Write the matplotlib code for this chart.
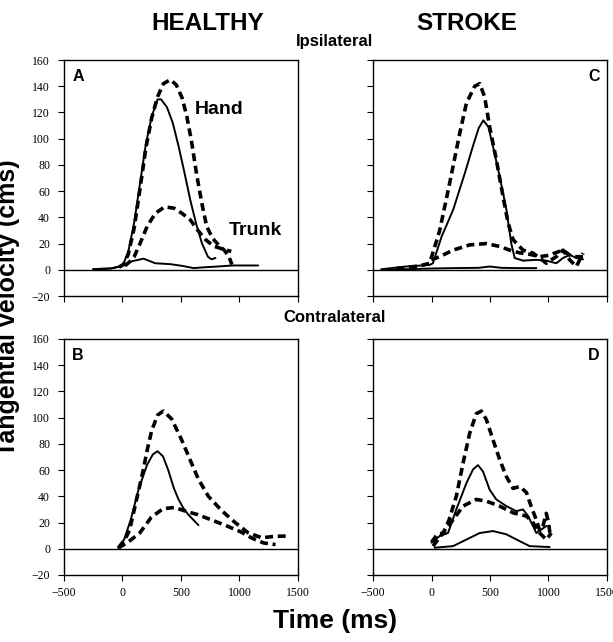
import matplotlib
matplotlib.use("Agg")
import matplotlib.pyplot as plt

# ---- data (time in ms, tangential velocity in cm/s) ----
# panel A: healthy, ipsilateral
a_hand_solid_t = [-250, -100, -30, 10, 50, 100, 150, 200, 250, 300, 330, 380, 430, 480, 530, 580, 630, 680, 730, 760, 795]
a_hand_solid_v = [0.5, 1, 2.5, 5, 14, 36, 66, 96, 117, 130, 130, 124, 112, 94, 74, 53, 35, 20, 10, 8, 9]
a_hand_dash_t = [-30, 10, 50, 100, 150, 200, 250, 300, 350, 410, 460, 510, 550, 590, 635, 680, 720, 770, 820, 870, 910, 935]
a_hand_dash_v = [2, 4, 12, 32, 62, 93, 116, 132, 142, 145, 141, 131, 117, 98, 72, 50, 33, 24, 19, 15, 10, 4]
a_trunk_solid_t = [-250, -100, -20, 80, 180, 280, 410, 510, 610, 680, 810, 940, 1160]
a_trunk_solid_v = [0.5, 1, 2.5, 6.5, 8.5, 5, 4.3, 3, 1.3, 1.8, 2.5, 3.3, 3.3]
a_trunk_dash_t = [20, 60, 100, 150, 210, 280, 360, 440, 510, 580, 645, 710, 780, 850, 930]
a_trunk_dash_v = [3, 6, 10, 20, 33, 43, 48, 47, 43, 38, 30, 23, 18, 16, 14]

# panel B: healthy, contralateral
b_hand_solid_t = [-36, 14, 70, 140, 210, 260, 300, 346, 391, 440, 477, 520, 563, 606, 649]
b_hand_solid_v = [0.6, 7, 22, 46, 64, 72, 74.4, 70.5, 60, 46, 38, 31, 26, 22, 18]
b_hand_dash_t = [-36, 20, 60, 106, 147, 177, 213, 249, 300, 349, 420, 506, 577, 649, 734, 849, 963, 1077, 1191, 1306, 1420]
b_hand_dash_v = [0.6, 7, 14, 32, 48, 60, 76, 90, 102, 105, 99, 83, 68, 53, 40, 29, 20, 12, 8.4, 9.5, 9.7]
b_trunk_dash_t = [-36, 47, 147, 246, 346, 445, 545, 644, 760, 876, 1009, 1109, 1208, 1308]
b_trunk_dash_v = [0.6, 5, 12, 24, 30.5, 31.5, 28.5, 26, 22, 18, 13, 8, 4.4, 3.2]

# panel C: stroke, ipsilateral
c_hand_solid_t = [-430, -220, -15, 12, 85, 186, 286, 353, 403, 443, 486, 526, 583, 640, 682, 711, 782, 896, 981, 1067, 1124, 1181, 1238, 1295]
c_hand_solid_v = [0.4, 2.5, 3.7, 5, 25, 46, 74, 94, 108, 114, 109, 94, 71, 46, 20, 9, 7, 7.6, 7, 5, 9, 11.4, 9, 8]
c_hand_dash_t = [-300, -200, -100, -16, 70, 155, 241, 298, 369, 412, 454, 497, 554, 611, 654, 697, 782, 868, 925, 981, 1030, 1067, 1124, 1181, 1238, 1295]
c_hand_dash_v = [1, 2, 3, 5, 30, 66, 104, 127, 140, 142, 132, 109, 84, 56, 36, 23, 15, 12.7, 9, 5, 8, 10, 15, 7.6, 2.5, 12.7]
c_trunk_solid_t = [-415, -200, 0, 200, 400, 497, 600, 750, 896]
c_trunk_solid_v = [0, 0.5, 1, 1.3, 1.5, 2.5, 1.5, 1.3, 1.3]
c_trunk_dash_t = [-1, 70, 184, 326, 469, 583, 668, 750, 830, 925, 1000, 1060, 1124, 1200, 1295]
c_trunk_dash_v = [7.6, 10, 15, 19, 20, 17.8, 15, 13, 12, 10, 11, 13, 15, 10, 10]

# panel D: stroke, contralateral
d_hand_solid_t = [0, 70, 141, 212, 298, 355, 397, 440, 497, 554, 640, 725, 782, 825, 868, 896, 939, 981]
d_hand_solid_v = [4.6, 9.7, 12, 30, 50, 60.5, 63.8, 59, 45, 37.6, 32.5, 28.7, 30, 25, 17.3, 12, 14.7, 17.3]
d_hand_dash_t = [0, 50, 100, 150, 212, 269, 326, 383, 426, 469, 526, 583, 640, 697, 754, 811, 853, 896, 925, 955, 981, 1000, 1015]
d_hand_dash_v = [5, 11, 12, 22, 40, 65, 88, 103, 105, 98.5, 83, 68, 55, 46, 47.5, 43, 32, 22, 14, 18, 27, 20, 10]
d_trunk_solid_t = [27, 184, 298, 412, 526, 640, 754, 839, 1010]
d_trunk_solid_v = [0.8, 2, 7, 12, 13.5, 11, 5.8, 2, 1.3]
d_trunk_dash_t = [13, 98, 184, 269, 383, 469, 583, 697, 811, 868, 925, 981, 1024]
d_trunk_dash_v = [2, 12, 22, 32.5, 37.6, 36.3, 32.5, 27.4, 24.9, 19.8, 12, 7, 12]

x_ticks = [-500, 0, 500, 1000, 1500]
y_ticks = [-20, 0, 20, 40, 60, 80, 100, 120, 140, 160]

sans = "Liberation Sans"
serif = "Liberation Serif"

fig = plt.figure(figsize=(6.13, 6.42), dpi=100)

w, h = 0.3817, 0.3676
axA = fig.add_axes([0.1044, 0.5389, w, h])
axC = fig.add_axes([0.6085, 0.5389, w, h])
axB = fig.add_axes([0.1044, 0.1044, w, h])
axD = fig.add_axes([0.6085, 0.1044, w, h])

solid = dict(color="black", lw=1.4, solid_capstyle="round")
dash = dict(color="black", lw=2.6, dashes=(2.2, 1.3))

panels = [
    (axA, "A", [(a_hand_solid_t, a_hand_solid_v), (a_trunk_solid_t, a_trunk_solid_v)],
     [(a_hand_dash_t, a_hand_dash_v), (a_trunk_dash_t, a_trunk_dash_v)]),
    (axB, "B", [(b_hand_solid_t, b_hand_solid_v)],
     [(b_hand_dash_t, b_hand_dash_v), (b_trunk_dash_t, b_trunk_dash_v)]),
    (axC, "C", [(c_hand_solid_t, c_hand_solid_v), (c_trunk_solid_t, c_trunk_solid_v)],
     [(c_hand_dash_t, c_hand_dash_v), (c_trunk_dash_t, c_trunk_dash_v)]),
    (axD, "D", [(d_hand_solid_t, d_hand_solid_v), (d_trunk_solid_t, d_trunk_solid_v)],
     [(d_hand_dash_t, d_hand_dash_v), (d_trunk_dash_t, d_trunk_dash_v)]),
]

for ax, letter, solids, dashes in panels:
    ax.set_xlim(-500, 1500)
    ax.set_ylim(-20, 160)
    ax.axhline(0, color="black", lw=1.0)
    for t, v in solids:
        ax.plot(t, v, **solid)
    for t, v in dashes:
        ax.plot(t, v, **dash)
    ax.set_xticks(x_ticks)
    ax.set_yticks(y_ticks)
    ax.tick_params(direction="out", length=4.5, width=0.8, labelsize=8.5)
    ax.tick_params(axis="x", pad=4)
    ax.tick_params(axis="y", pad=5.5)
    for s in ax.spines.values():
        s.set_linewidth(1.0)
    for lab in ax.get_xticklabels() + ax.get_yticklabels():
        lab.set_family(serif)
    if letter in ("A", "C"):
        ax.tick_params(labelbottom=False)
    if letter in ("C", "D"):
        ax.tick_params(labelleft=False)
    if letter in ("A", "B"):
        ax.text(0.035, 0.962, letter, transform=ax.transAxes, ha="left", va="top",
                family=sans, weight="bold", fontsize=11.5)
    else:
        ax.text(0.97, 0.962, letter, transform=ax.transAxes, ha="right", va="top",
                family=sans, weight="bold", fontsize=11.5)

axA.text(620, 122, "Hand", ha="left", va="center", family=sans, weight="bold", fontsize=14)
axA.text(906, 30, "Trunk", ha="left", va="center", family=sans, weight="bold", fontsize=14)

fig.text(0.339, 0.964, "HEALTHY", ha="center", va="center", family=sans, weight="bold", fontsize=17.5)
fig.text(0.762, 0.964, "STROKE", ha="center", va="center", family=sans, weight="bold", fontsize=17.5)
fig.text(0.545, 0.936, "Ipsilateral", ha="center", va="center", family=sans, weight="bold", fontsize=12)
fig.text(0.545, 0.505, "Contralateral", ha="center", va="center", family=sans, weight="bold", fontsize=12)
fig.text(0.547, 0.033, "Time (ms)", ha="center", va="center", family=sans, weight="bold", fontsize=19)
fig.text(0.013, 0.52, "Tangential velocity (cms)", ha="center", va="center", rotation=90,
         family=sans, weight="bold", fontsize=18)

fig.savefig("out.png", dpi=100)
